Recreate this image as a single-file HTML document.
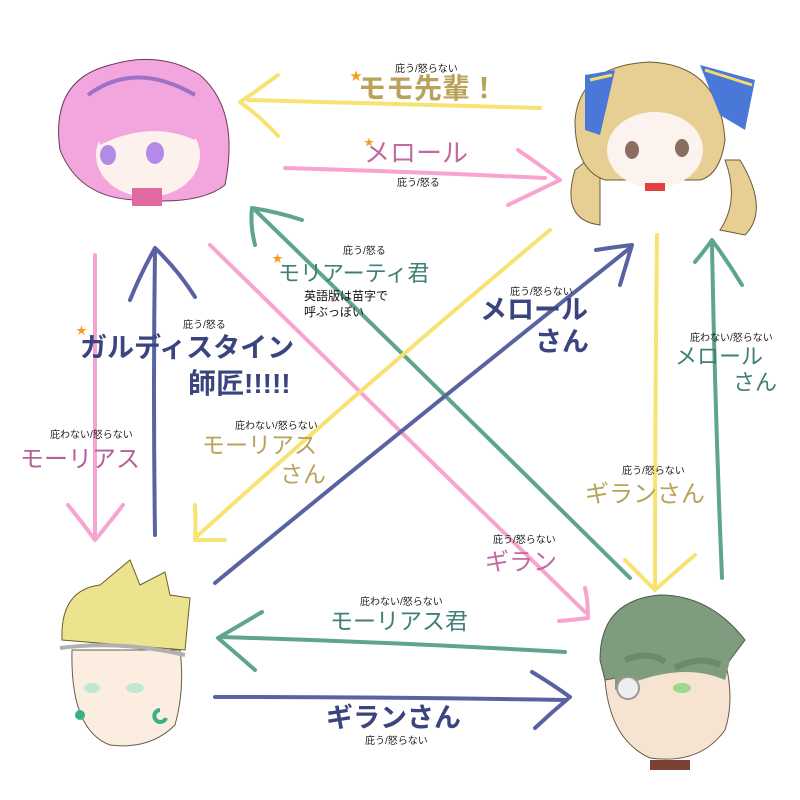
<!DOCTYPE html>
<html><head><meta charset="utf-8"><style>
html,body{margin:0;padding:0;background:#fff;}
svg{display:block;}
text{font-family:"Liberation Sans","Noto Sans CJK JP",sans-serif;}
.s{font-size:10px;fill:#222;}
</style></head><body>
<svg width="800" height="800" viewBox="0 0 800 800" xmlns="http://www.w3.org/2000/svg">
<rect width="800" height="800" fill="#fff"/>
<g fill="none" stroke-width="4" stroke-linecap="round" stroke-linejoin="round">
<g stroke="#f8e272"><path d="M540,108 Q400,104 248,100"/><path d="M278,75 Q255,92 240,102 Q262,118 278,136"/></g>
<g stroke="#f8a4d0"><path d="M285,168 Q420,172 545,178"/><path d="M518,150 Q540,165 560,180 Q535,192 508,205"/></g>
<g stroke="#5ea58c"><path d="M630,578 Q440,390 255,210"/><path d="M255,245 Q250,225 252,208 Q278,212 302,220"/></g>
<g stroke="#f8a4d0"><path d="M210,245 Q400,430 585,612"/><path d="M585,588 Q588,600 588,618 Q572,620 559,621"/></g>
<g stroke="#f8e272"><path d="M550,230 Q370,380 195,538"/><path d="M195,505 Q196,525 195,540 Q210,540 225,540"/></g>
<g stroke="#5a63a2"><path d="M215,583 Q420,415 630,248"/><path d="M596,250 Q615,247 632,245 Q626,265 620,285"/></g>
<g stroke="#f8a4d0"><path d="M95,255 L95,540"/><path d="M68,505 Q82,522 95,540 Q110,522 123,505"/></g>
<g stroke="#5a63a2"><path d="M155,535 Q153,390 155,250"/><path d="M130,300 Q140,275 155,248 Q178,270 195,297"/></g>
<g stroke="#f8e272"><path d="M657,235 Q655,410 655,585"/><path d="M625,560 Q640,575 655,590 Q675,572 695,555"/></g>
<g stroke="#5ea58c"><path d="M722,578 Q715,410 712,245"/><path d="M695,262 Q705,250 712,240 Q728,262 742,285"/></g>
<g stroke="#5ea58c"><path d="M565,652 Q390,642 220,637"/><path d="M262,612 Q240,625 218,638 Q238,655 255,670"/></g>
<g stroke="#5a63a2"><path d="M215,697 Q390,697 565,700"/><path d="M532,672 Q552,684 570,697 Q552,712 535,728"/></g>
</g>

<g>
<path d="M60,150 Q50,80 110,65 Q160,50 200,75 Q240,110 225,185 Q200,205 140,200 Q80,200 60,150Z" fill="#f3a6dd" stroke="#6a3a5a" stroke-width="1"/>
<ellipse cx="148" cy="155" rx="52" ry="42" fill="#fdf1ee"/>
<path d="M95,120 Q140,95 200,115 L195,140 Q150,120 100,145Z" fill="#f3a6dd"/>
<path d="M88,95 Q135,60 195,95" fill="none" stroke="#9b72c8" stroke-width="4"/>
<ellipse cx="108" cy="155" rx="8" ry="10" fill="#b48ae8"/>
<ellipse cx="155" cy="153" rx="9" ry="11" fill="#b48ae8"/>
<rect x="132" y="188" width="30" height="18" fill="#e06aa0"/>
</g>
<g>
<path d="M575,170 Q560,220 600,225 L600,150Z" fill="#e7cf93" stroke="#6b5a3a" stroke-width="1"/>
<path d="M740,160 Q770,210 745,235 L720,230 Q740,200 725,160Z" fill="#e7cf93" stroke="#6b5a3a" stroke-width="1"/>
<path d="M575,120 Q580,65 650,62 Q720,65 725,140 Q720,175 700,180 L605,180 Q575,170 575,120Z" fill="#e7cf93" stroke="#6b5a3a" stroke-width="1"/>
<ellipse cx="655" cy="150" rx="48" ry="38" fill="#fdf3ee"/>
<path d="M610,125 Q650,90 705,120 L705,100 Q650,70 605,105Z" fill="#e7cf93"/>
<ellipse cx="632" cy="150" rx="7" ry="9" fill="#8a6f60"/>
<ellipse cx="682" cy="148" rx="7" ry="9" fill="#8a6f60"/>
<path d="M585,75 L615,70 L600,135 L585,130Z" fill="#4a78d8"/>
<path d="M700,65 L755,80 L745,130 L720,115Z" fill="#4a78d8"/>
<path d="M590,80 L612,75" stroke="#f3dc6a" stroke-width="3"/>
<path d="M705,70 L752,85" stroke="#f3dc6a" stroke-width="3"/>
<rect x="645" y="183" width="20" height="8" fill="#e04040"/>
</g>
<g>
<path d="M62,640 Q60,590 100,585 L130,560 L140,585 L165,572 L170,595 L190,598 L185,650 Z" fill="#ece38e" stroke="#6b6030" stroke-width="1"/>
<path d="M72,650 Q70,730 110,745 Q150,750 175,725 Q185,690 180,650 Z" fill="#fbeee0" stroke="#6b5a4a" stroke-width="1"/>
<path d="M60,648 Q120,640 185,655" stroke="#b0b0b0" stroke-width="4" fill="none"/>
<ellipse cx="92" cy="688" rx="8" ry="5" fill="#bfe8d2"/>
<ellipse cx="135" cy="688" rx="9" ry="5" fill="#bfe8d2"/>
<path d="M160,710 a6,6 0 1 0 6,8" stroke="#3ab08a" stroke-width="4" fill="none"/>
<circle cx="80" cy="715" r="5" fill="#3ab08a"/>
</g>
<g>
<path d="M600,660 Q600,600 660,595 Q710,595 745,640 L730,660 Q715,690 700,700 L610,700 Z" fill="#7f9c7e" stroke="#4a5a45" stroke-width="1"/>
<path d="M605,680 Q610,740 650,758 Q700,765 725,730 Q735,700 725,660 Q660,670 605,680Z" fill="#f6e3d2" stroke="#6b5a4a" stroke-width="1"/>
<path d="M615,665 Q700,630 730,660 L725,680 Q680,660 615,690Z" fill="#7f9c7e"/>
<path d="M625,660 Q650,650 665,662 M675,668 Q700,655 720,665" stroke="#6a8a68" stroke-width="6" fill="none"/>
<circle cx="628" cy="688" r="11" fill="#eee" stroke="#999" stroke-width="2"/>
<ellipse cx="682" cy="688" rx="9" ry="5" fill="#9ed98a"/>
<rect x="650" y="760" width="40" height="10" fill="#7a4030"/>
</g>

<g>
<text x="395" y="72" class="s">庇う/怒らない</text>
<text x="358" y="98" font-size="28" font-weight="bold" fill="#b9a35a">モモ先輩！</text>
<text x="350" y="80" font-size="12" fill="#f0a020">★</text>

<text x="364" y="162" font-size="26" fill="#c4689f">メロール</text>
<text x="364" y="146" font-size="10" fill="#f0a020">★</text>
<text x="397" y="186" class="s">庇う/怒る</text>

<text x="343" y="254" class="s">庇う/怒る</text>
<text x="272" y="262" font-size="11" fill="#f0a020">★</text>
<text x="278" y="281" font-size="22" fill="#3f7f78">モリアーティ君</text>
<text x="304" y="300" font-size="12" fill="#111">英語版は苗字で</text>
<text x="304" y="316" font-size="12" fill="#111">呼ぶっぽい</text>

<text x="510" y="295" class="s">庇う/怒らない</text>
<text x="480" y="319" font-size="27" font-weight="bold" fill="#3a447e">メロール</text>
<text x="535" y="351" font-size="27" font-weight="bold" fill="#3a447e">さん</text>

<text x="183" y="328" class="s">庇う/怒る</text>
<text x="76" y="334" font-size="11" fill="#f0a020">★</text>
<text x="80" y="357" font-size="27" font-weight="bold" fill="#3a447e">ガルディスタイン</text>
<text x="188" y="393" font-size="28" font-weight="bold" fill="#3a447e">師匠!!!!!</text>

<text x="690" y="341" class="s">庇わない/怒らない</text>
<text x="675" y="364" font-size="22" fill="#3f7f78">メロール</text>
<text x="733" y="390" font-size="22" fill="#3f7f78">さん</text>

<text x="50" y="438" class="s">庇わない/怒らない</text>
<text x="20" y="467" font-size="24" fill="#b4609a">モーリアス</text>

<text x="235" y="429" class="s">庇わない/怒らない</text>
<text x="202" y="453" font-size="23" fill="#b9a35a">モーリアス</text>
<text x="280" y="482" font-size="23" fill="#b9a35a">さん</text>

<text x="622" y="474" class="s">庇う/怒らない</text>
<text x="585" y="502" font-size="24" fill="#b9a35a">ギランさん</text>

<text x="493" y="543" class="s">庇う/怒らない</text>
<text x="485" y="570" font-size="24" fill="#c4689f">ギラン</text>

<text x="360" y="605" class="s">庇わない/怒らない</text>
<text x="330" y="629" font-size="23" fill="#3f7f78">モーリアス君</text>

<text x="326" y="727" font-size="27" font-weight="bold" fill="#3a447e">ギランさん</text>
<text x="365" y="744" class="s">庇う/怒らない</text>
</g>
</svg>
</body></html>
